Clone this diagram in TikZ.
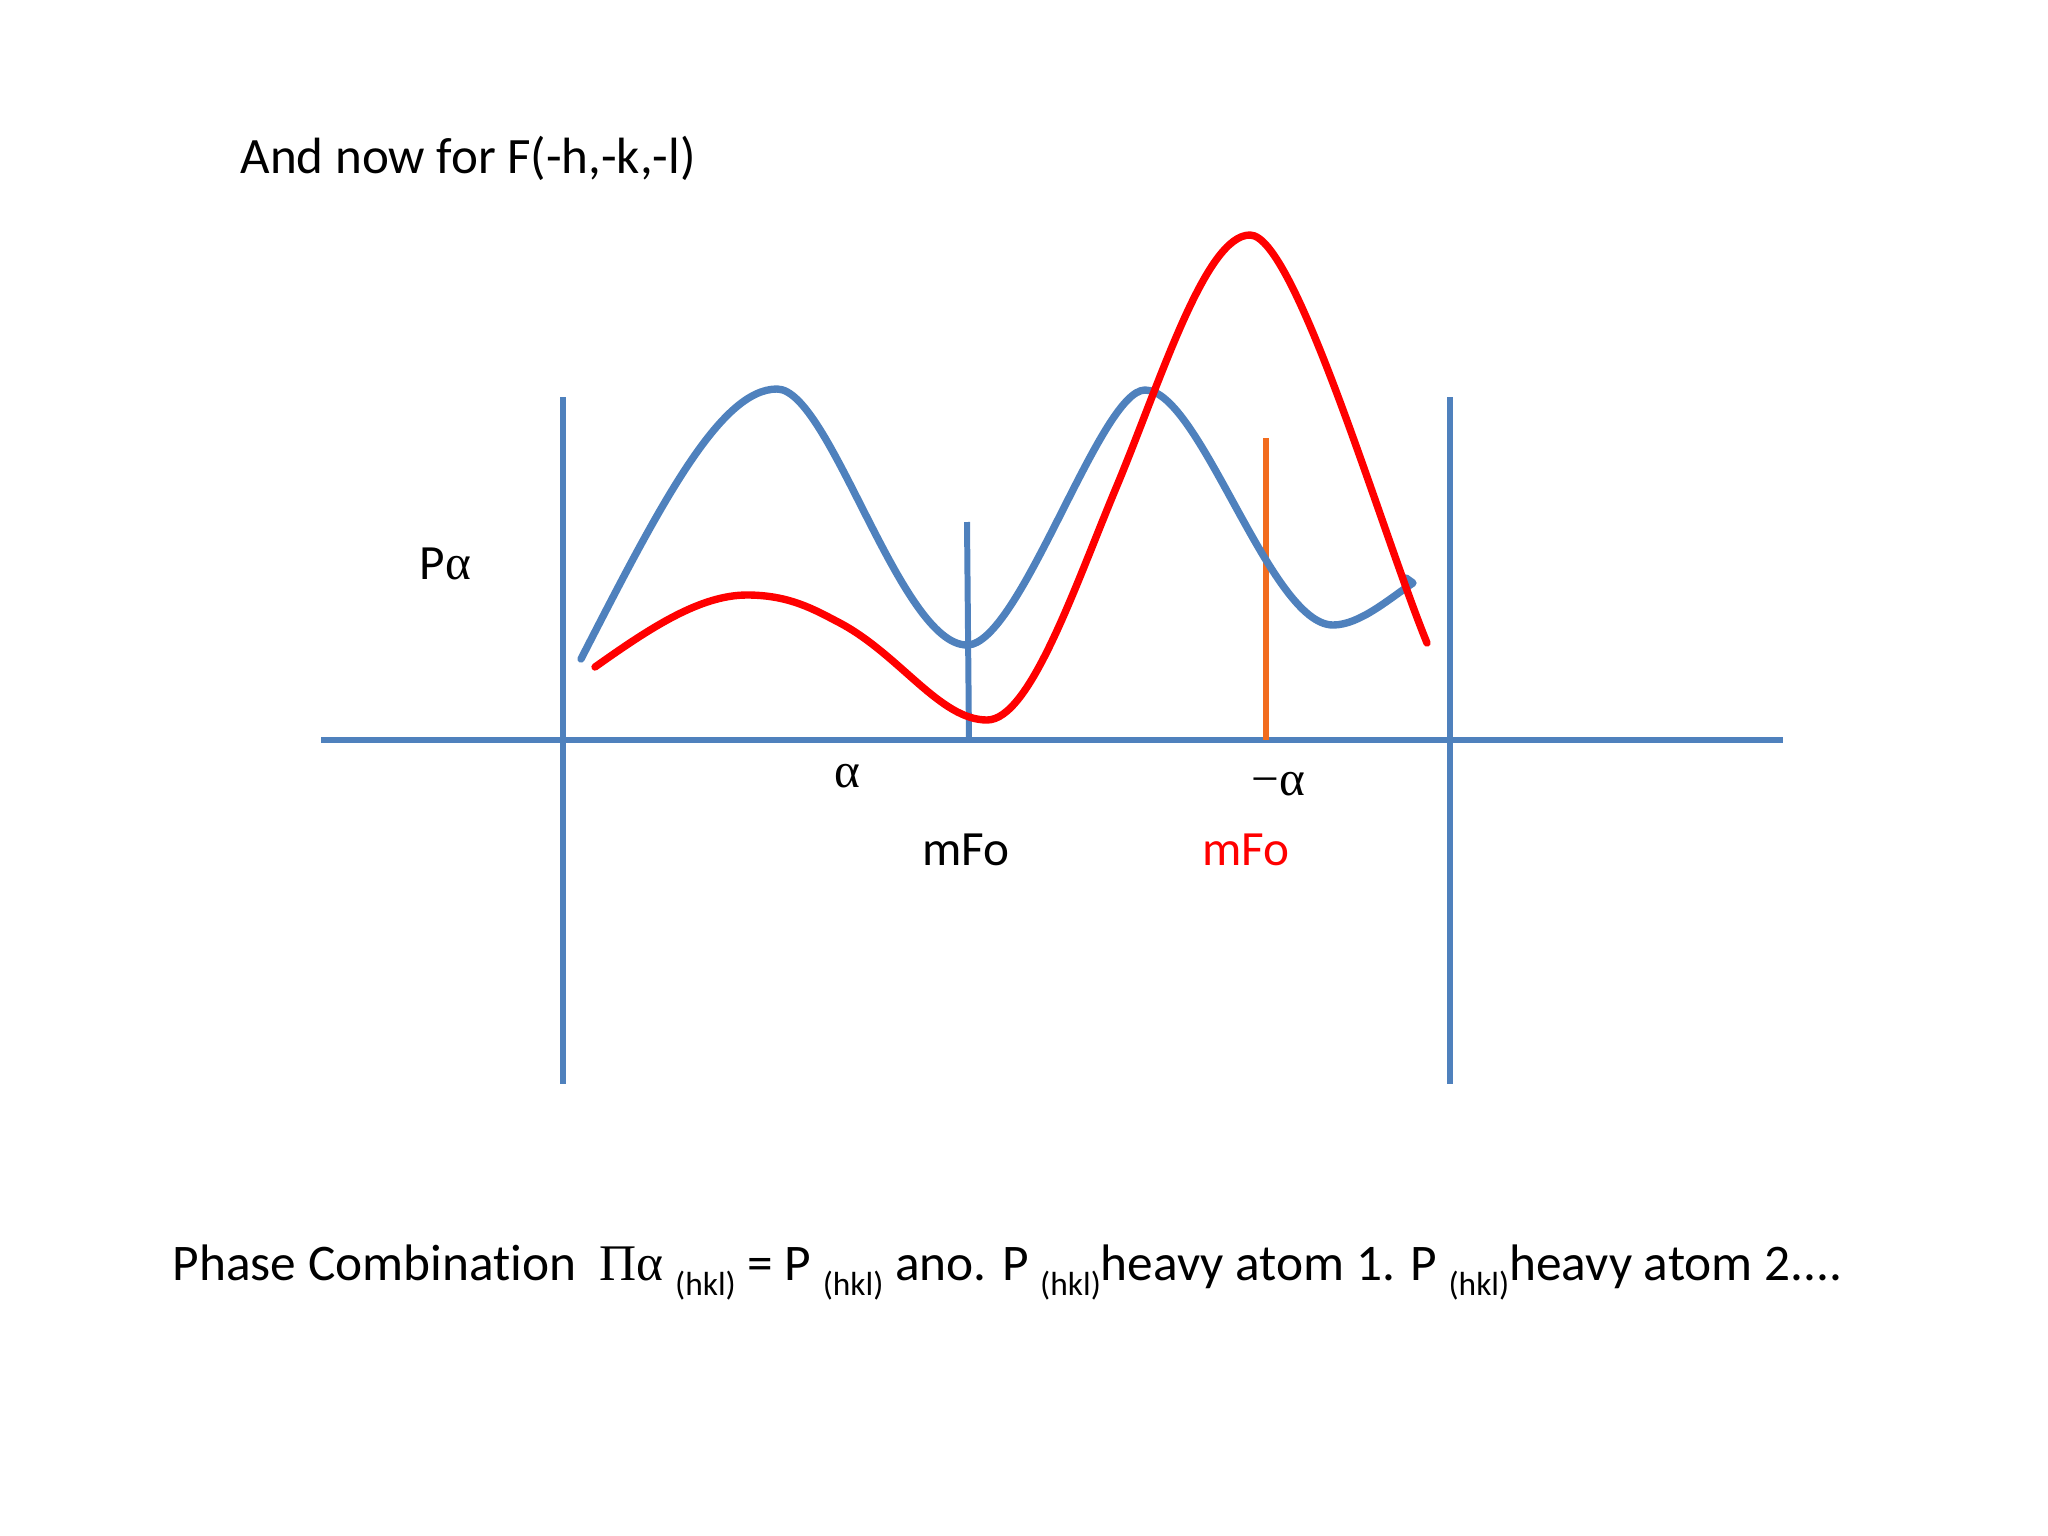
\documentclass[tikz,border=0pt]{standalone}
\usepackage{fontspec}
\setmainfont{Carlito}[Ligatures=NoCommon]
\newfontfamily\greekfont{Liberation Serif}
\usetikzlibrary{positioning}
\definecolor{axisblue}{RGB}{79,129,189}
\definecolor{peakred}{RGB}{255,0,0}
\definecolor{fobar}{RGB}{242,108,30}
\newcommand{\hklsub}{\raisebox{-0.3em}{\fontsize{9.5}{10}\selectfont(hkl)}}

\begin{document}
\begin{tikzpicture}[x=0.01cm,y=-0.01cm,
  axis/.style={draw=axisblue,line width=1.7pt},
  curve/.style={line width=2.1pt,line join=round,line cap=round},
  lbl/.style={inner sep=0pt,anchor=base,font=\fontsize{14}{16}\selectfont}]
\useasboundingbox (0,0) rectangle (2048,1536);
% axes
\coordinate (xl) at (321,740); \coordinate (xr) at (1783,740);
\coordinate (lt) at (563,397); \coordinate (lb) at (563,1084);
\coordinate (rt) at (1450,397); \coordinate (rb) at (1450,1084);
\draw[axis] (xl) -- (xr);
\draw[axis] (lt) -- (lb);
\draw[axis] (rt) -- (rb);
% mFo markers
\coordinate (fo1t) at (967,522); \coordinate (fo1b) at (969,740);
\coordinate (fo2t) at (1266,438); \coordinate (fo2b) at (1266,740);
\draw[axis] (fo1t) -- (fo1b);
\draw[draw=fobar,line width=1.7pt] (fo2t) -- (fo2b);
% probability curves
\draw[curve,axisblue] (581,659) .. controls (660,505) and (720,389) .. (777,389)
  .. controls (830,389) and (900,645) .. (967,645)
  .. controls (1020,645) and (1100,390) .. (1145,390)
  .. controls (1200,390) and (1270,625) .. (1333,625)
  .. controls (1360,625) and (1390,598) .. (1413,583) -- (1406,578);
\draw[curve,peakred] (595,667) .. controls (650,628) and (700,595) .. (747,595)
  .. controls (790,595) and (815,610) .. (840,623)
  .. controls (900,655) and (940,720) .. (987,720)
  .. controls (1030,720) and (1075,586) .. (1116,488)
  .. controls (1160,383) and (1205,235) .. (1250,235)
  .. controls (1295,235) and (1382,533) .. (1427,643);
% labels
\node[lbl,anchor=base west,font=\fontsize{14.5}{17}\selectfont] (title) at (240,173) {And now for F(-h,-k,-l)};
\node[lbl,anchor=base west] (palpha) at (419,579) {P{\greekfont α}};
\node[lbl] (alpha) at (847,787) {\greekfont α};
\node[lbl] (malpha) at (1278,795) {\greekfont −α};
\node[lbl] (mfo) at (966,865) {mFo};
\node[lbl,text=peakred] (mfored) at (1246,865) {mFo};
\node[lbl,anchor=base west,font=\fontsize{14.6}{17}\selectfont] (combo) at (172,1280)
  {Phase Combination\ \ {\greekfont Πα} \hklsub{} = P \hklsub{} ano. P \hklsub{}heavy atom 1. P \hklsub{}heavy atom 2....};
\end{tikzpicture}
\end{document}
